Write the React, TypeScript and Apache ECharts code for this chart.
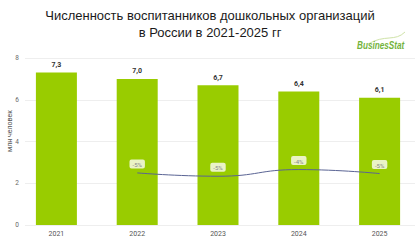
import React, { useEffect, useRef } from "react";
import * as echarts from "echarts";

const years = ["2021", "2022", "2023", "2024", "2025"];
const pupils = [7.3, 7.0, 6.7, 6.4, 6.1];
// year-over-year change, %, shown from 2022 on
const growth = [null, -4.7, -5.2, -4.2, -4.8];
const yTicks = [0, 2, 4, 6, 8];

export default function App() {
  const ref = useRef<HTMLDivElement>(null);

  useEffect(() => {
    if (!ref.current) return;
    const chart = echarts.init(ref.current, undefined, { renderer: "svg" });
    const font = "Roboto, Arial, sans-serif";
    chart.setOption({
      animation: false,
      backgroundColor: "#ffffff",
      title: {
        text: "Численность воспитанников дошкольных организаций\nв России в 2021-2025 гг",
        left: "center",
        top: 2,
        textStyle: {
          fontFamily: "Arial, 'Liberation Sans', sans-serif",
          fontSize: 13,
          fontWeight: "normal",
          color: "#1a1a1a",
          lineHeight: 17,
        },
      },
      graphic: [
        {
          type: "bezierCurve",
          shape: { x1: 368, y1: 44, x2: 405, y2: 32, cpx1: 385, cpy1: 34, cpx2: 395, cpy2: 42 },
          style: { stroke: "#cfe3a8", lineWidth: 1, fill: null },
        },
        {
          type: "text",
          x: 357,
          y: 46,
          scaleX: 0.82,
          style: {
            text: "BusinesStat",
            font: "italic bold 10px Arial, 'Liberation Sans', sans-serif",
            fill: "#73b33c",
            verticalAlign: "middle",
          },
        },
        {
          type: "text",
          x: 10,
          y: 131,
          rotation: Math.PI / 2,
          style: {
            text: "млн человек",
            font: `7px ${font}`,
            fill: "#555",
            align: "center",
            verticalAlign: "middle",
          },
        },
      ],
      grid: [
        { left: 25, right: 5, top: 58, bottom: 15 },
        { left: 16, right: -3, top: 58, bottom: 15 },
      ],
      xAxis: [
        { type: "category", gridIndex: 0, data: years, show: false },
        {
          type: "category",
          gridIndex: 1,
          data: years,
          axisLine: { show: false },
          axisTick: { show: false },
          axisLabel: { color: "#555", fontSize: 7, fontFamily: font, margin: 5 },
        },
      ],
      yAxis: [
        {
          type: "value",
          gridIndex: 0,
          min: yTicks[0],
          max: yTicks[yTicks.length - 1],
          interval: 2,
          axisLine: { show: false },
          axisTick: { show: false },
          axisLabel: { color: "#666", fontSize: 6.5, fontFamily: font, margin: 6 },
          splitLine: { lineStyle: { color: "#eeeeee", width: 1 } },
        },
        { type: "value", gridIndex: 1, min: 0, max: 8, show: false },
        { type: "value", gridIndex: 1, min: -12.5, max: 12.5, show: false },
      ],
      series: [
        {
          type: "bar",
          xAxisIndex: 1,
          yAxisIndex: 1,
          data: pupils,
          barWidth: 41,
          itemStyle: { color: "#99cc00" },
          label: {
            show: true,
            position: "top",
            distance: 4,
            color: "#333",
            fontSize: 7,
            fontWeight: "bold",
            fontFamily: font,
            formatter: (p: any) => p.value.toFixed(1).replace(".", ","),
          },
        },
        {
          type: "line",
          xAxisIndex: 1,
          yAxisIndex: 2,
          data: growth,
          smooth: true,
          symbol: "circle",
          symbolSize: 1,
          showSymbol: true,
          itemStyle: { color: "rgba(0,0,0,0)" },
          lineStyle: { color: "#5a6494", width: 1 },
          labelLayout: { hideOverlap: false },
          label: {
            show: true,
            position: "top",
            distance: 4,
            color: "#888",
            fontSize: 6,
            fontFamily: font,
            backgroundColor: "#eaf3c6",
            borderRadius: 2,
            padding: [2, 3, 1, 3],
            formatter: (p: any) => `${Math.round(p.value)}%`,
          },
        },
      ],
    });
    return () => chart.dispose();
  }, []);

  return (
    <div
      ref={ref}
      style={{ position: "fixed", left: 0, top: 0, width: 420, height: 240 }}
    />
  );
}
